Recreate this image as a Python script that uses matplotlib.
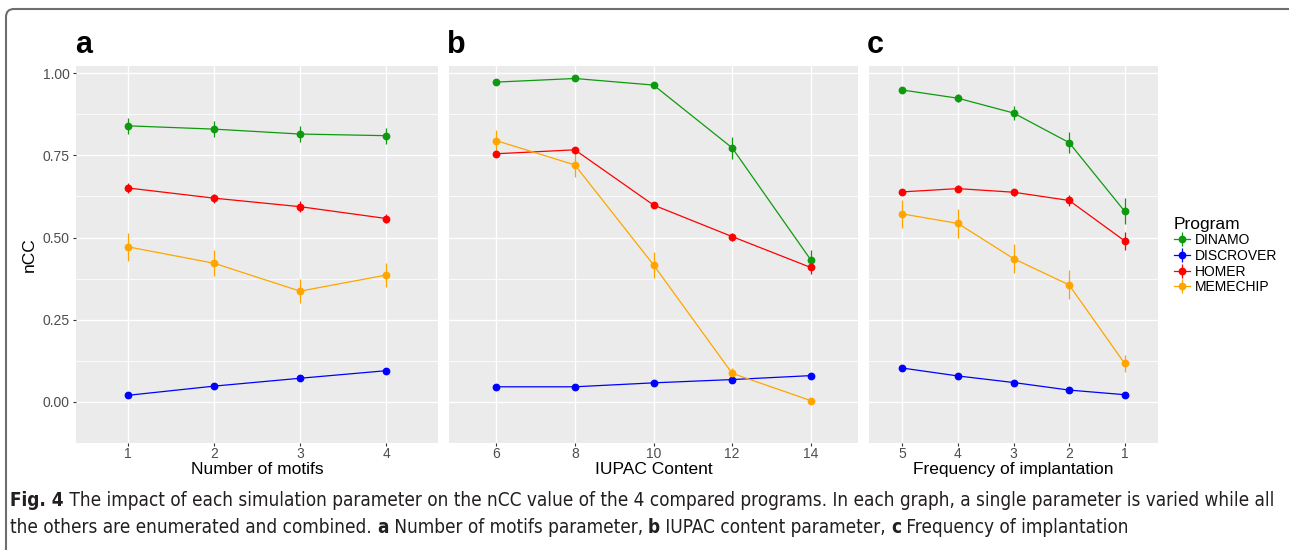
import matplotlib
matplotlib.use("Agg")
import matplotlib.pyplot as plt
from matplotlib import font_manager
from matplotlib.patches import FancyBboxPatch
from matplotlib.transforms import IdentityTransform

programs = ["DINAMO", "DISCROVER", "HOMER", "MEMECHIP"]
colors = {"DINAMO": "#0E9A0E", "DISCROVER": "#0000FF", "HOMER": "#FF0000", "MEMECHIP": "#FFA500"}

# panel a: number of motifs
motifs_labels = ["1", "2", "3", "4"]
motifs_mean = {
    "DINAMO": [0.840, 0.830, 0.815, 0.810],
    "DISCROVER": [0.020, 0.048, 0.072, 0.095],
    "HOMER": [0.651, 0.620, 0.594, 0.558],
    "MEMECHIP": [0.472, 0.422, 0.337, 0.386],
}
motifs_err = {
    "DINAMO": [0.025, 0.024, 0.024, 0.024],
    "DISCROVER": [0.004, 0.004, 0.004, 0.004],
    "HOMER": [0.015, 0.014, 0.016, 0.015],
    "MEMECHIP": [0.042, 0.040, 0.036, 0.036],
}

# panel b: IUPAC content
iupac_labels = ["6", "8", "10", "12", "14"]
iupac_mean = {
    "DINAMO": [0.973, 0.984, 0.964, 0.773, 0.432],
    "DISCROVER": [0.046, 0.046, 0.058, 0.068, 0.080],
    "HOMER": [0.755, 0.767, 0.599, 0.503, 0.409],
    "MEMECHIP": [0.795, 0.721, 0.417, 0.087, 0.004],
}
iupac_err = {
    "DINAMO": [0.005, 0.005, 0.006, 0.033, 0.030],
    "DISCROVER": [0.003, 0.003, 0.003, 0.003, 0.004],
    "HOMER": [0.008, 0.008, 0.008, 0.012, 0.020],
    "MEMECHIP": [0.033, 0.037, 0.039, 0.016, 0.005],
}

# panel c: frequency of implantation
freq_labels = ["5", "4", "3", "2", "1"]
freq_mean = {
    "DINAMO": [0.949, 0.924, 0.879, 0.789, 0.580],
    "DISCROVER": [0.103, 0.079, 0.059, 0.036, 0.022],
    "HOMER": [0.639, 0.649, 0.638, 0.613, 0.490],
    "MEMECHIP": [0.572, 0.543, 0.436, 0.356, 0.117],
}
freq_err = {
    "DINAMO": [0.010, 0.012, 0.020, 0.032, 0.040],
    "DISCROVER": [0.004, 0.004, 0.004, 0.004, 0.004],
    "HOMER": [0.010, 0.010, 0.010, 0.018, 0.027],
    "MEMECHIP": [0.042, 0.044, 0.044, 0.044, 0.027],
}

W, H = 1289, 550
fig = plt.figure(figsize=(W / 100, H / 100), dpi=100)
plt.rcParams["font.family"] = ["Liberation Sans", "DejaVu Sans"]


def box(x0, x1, top=66, bottom=443):
    return [x0 / W, 1 - bottom / H, (x1 - x0) / W, (bottom - top) / H]


panels = [
    ("a", box(76, 438), motifs_labels, motifs_mean, motifs_err, "Number of motifs"),
    ("b", box(449, 858), iupac_labels, iupac_mean, iupac_err, "IUPAC Content"),
    ("c", box(869, 1158), freq_labels, freq_mean, freq_err, "Frequency of implantation"),
]

handles = []
for i, (tag, rect, labels, means, errs, xlabel) in enumerate(panels):
    ax = fig.add_axes(rect)
    ax.set_facecolor("#EBEBEB")
    for s in ax.spines.values():
        s.set_visible(False)
    xs = list(range(len(labels)))
    # ggplot style grid
    for y in [0.125, 0.375, 0.625, 0.875]:
        ax.axhline(y, color="white", lw=0.55, zorder=0.5)
    for y in [0, 0.25, 0.5, 0.75, 1.0]:
        ax.axhline(y, color="white", lw=1.0, zorder=0.6)
    for x in xs:
        ax.axvline(x, color="white", lw=1.0, zorder=0.6)

    for p in programs:
        h = ax.errorbar(xs, means[p], yerr=errs[p], color=colors[p], fmt="-o",
                        ms=4.6, lw=0.9, elinewidth=0.9, capsize=0, zorder=3, label=p)
        if i == 0:
            handles.append(h)

    ax.set_xlim(-0.6, len(labels) - 0.4)
    ax.set_ylim(-0.125, 1.022)
    ax.set_xticks(xs)
    ax.set_xticklabels(labels)
    ax.tick_params(axis="x", length=2.5, width=0.8, color="#333333", labelcolor="#4D4D4D",
                   labelsize=10, pad=0.5)
    ax.set_xlabel(xlabel, fontsize=12.5, labelpad=0.5)
    if i == 0:
        ax.set_yticks([0, 0.25, 0.5, 0.75, 1.0])
        ax.set_yticklabels(["0.00", "0.25", "0.50", "0.75", "1.00"])
        ax.tick_params(axis="y", length=2.5, width=0.8, color="#333333", labelcolor="#4D4D4D",
                       labelsize=10, pad=2)
        ax.set_ylabel("nCC", fontsize=12.5, labelpad=4)
    else:
        ax.set_yticks([])
    fig.text(rect[0] - 1 / W if tag == "a" else rect[0] - 2 / W, 1 - 53 / H, tag,
             fontsize=22, fontweight="bold", ha="left", va="baseline")

leg = fig.legend(handles=handles, labels=programs, title="Program", loc="upper left",
                 bbox_to_anchor=(1168 / W, 1 - 211 / H), frameon=False, fontsize=10,
                 title_fontsize=12.5, handlelength=1.2, handletextpad=0.35,
                 labelspacing=0.12, alignment="left", borderaxespad=0)

# frame around the figure
frame = FancyBboxPatch((6, -40), 1300, H - 9 + 40, boxstyle="round,pad=0,rounding_size=8",
                       transform=IdentityTransform(), fill=False, ec="#6E6E6E", lw=1.5)
fig.add_artist(frame)

# caption
names = {f.name for f in font_manager.fontManager.ttflist}
cap_family = ["Liberation Sans Narrow"] if "Liberation Sans Narrow" in names else ["DejaVu Sans"]
stretch = "normal" if "Liberation Sans Narrow" in names else "condensed"

line1 = [("Fig. 4", "bold"),
         (" The impact of each simulation parameter on the nCC value of the 4 compared programs. "
          "In each graph, a single parameter is varied while all", "normal")]
line2 = [("the others are enumerated and combined. ", "normal"), ("a", "bold"),
         (" Number of motifs parameter, ", "normal"), ("b", "bold"),
         (" IUPAC content parameter, ", "normal"), ("c", "bold"),
         (" Frequency of implantation", "normal")]

renderer = fig.canvas.get_renderer()


def put_line(pieces, x0, ybase, size):
    x = x0
    for txt, wt in pieces:
        t = fig.text(x / W, 1 - ybase / H, txt, fontsize=size, fontweight=wt,
                     family=cap_family, fontstretch=stretch, ha="left", va="baseline",
                     color="#231F20")
        bb = t.get_window_extent(renderer)
        x += bb.width
    return x


# fit size so the first line spans the caption width
size = 12.5
probe = fig.text(0, 0, "".join(p[0] for p in line1), fontsize=size, family=cap_family,
                 fontstretch=stretch)
wid = probe.get_window_extent(renderer).width
probe.remove()
size = size * 1258 / wid
put_line(line1, 10, 506, size)
put_line(line2, 10, 533, size)

fig.savefig("out.png", dpi=100)
